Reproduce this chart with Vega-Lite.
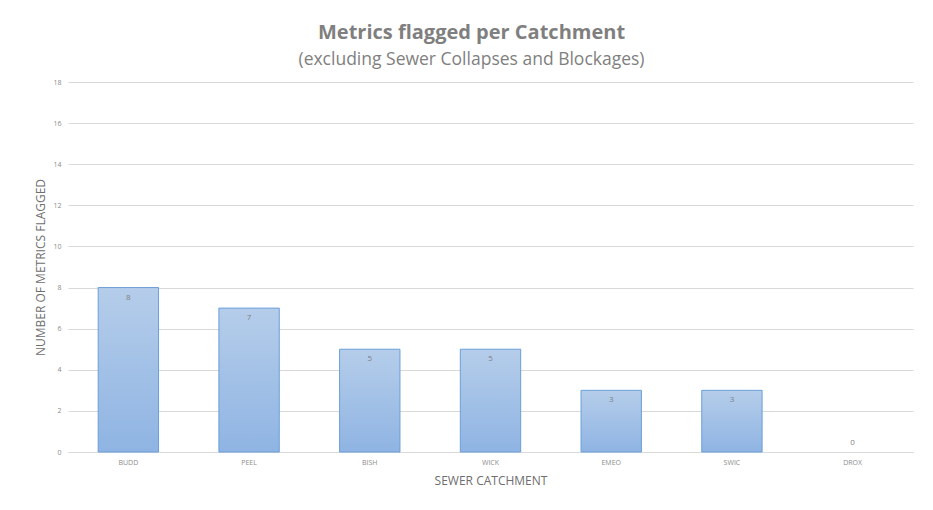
{
  "$schema": "https://vega.github.io/schema/vega-lite/v6.json",
  "autosize": {"type": "none"},
  "padding": {"left": 68, "top": 82, "right": 20, "bottom": 58},
  "width": 845,
  "height": 370,
  "background": "white",
  "title": {
    "text": "Metrics flagged per Catchment",
    "subtitle": "(excluding Sewer Collapses and Blockages)",
    "anchor": "middle",
    "dx": -19,
    "offset": 10,
    "font": "Open Sans",
    "fontSize": 20,
    "fontWeight": "bold",
    "color": "#7f7f7f",
    "subtitleFont": "Open Sans",
    "subtitleFontSize": 17.5,
    "subtitleColor": "#7f7f7f",
    "subtitlePadding": 8
  },
  "data": {
    "values": [
      {"catchment": "BUDD", "count": 8},
      {"catchment": "PEEL", "count": 7},
      {"catchment": "BISH", "count": 5},
      {"catchment": "WICK", "count": 5},
      {"catchment": "EMEO", "count": 3},
      {"catchment": "SWIC", "count": 3},
      {"catchment": "DROX", "count": 0}
    ]
  },
  "encoding": {
    "x": {
      "field": "catchment",
      "type": "nominal",
      "sort": null,
      "scale": {"paddingInner": 0.5, "paddingOuter": 0.25},
      "axis": {
        "title": "SEWER CATCHMENT",
        "labelAngle": 0,
        "labelFont": "Open Sans",
        "labelFontSize": 7,
        "labelColor": "#8c8c8c",
        "labelPadding": 6,
        "ticks": false,
        "domain": true,
        "domainColor": "#d9d9d9",
        "titleFont": "Open Sans",
        "titleFontSize": 12,
        "titleFontWeight": "normal",
        "titleColor": "#6e6e6e",
        "titlePadding": 10
      }
    },
    "y": {
      "field": "count",
      "type": "quantitative",
      "scale": {"domain": [0, 18], "nice": false},
      "axis": {
        "title": "NUMBER OF METRICS FLAGGED",
        "values": [0, 2, 4, 6, 8, 10, 12, 14, 16, 18],
        "labelFont": "Open Sans",
        "labelFontSize": 7,
        "labelColor": "#8c8c8c",
        "labelPadding": 7,
        "ticks": false,
        "domain": false,
        "grid": true,
        "gridColor": "#d9d9d9",
        "titleFont": "Open Sans",
        "titleFontSize": 12,
        "titleFontWeight": "normal",
        "titleColor": "#6e6e6e",
        "titlePadding": 5
      }
    }
  },
  "layer": [
    {
      "mark": {
        "type": "bar",
        "color": {
          "gradient": "linear",
          "x1": 0, "y1": 0, "x2": 0, "y2": 1,
          "stops": [
            {"offset": 0, "color": "#b5cdea"},
            {"offset": 1, "color": "#8fb4e3"}
          ]
        },
        "stroke": "#6a9fd8",
        "strokeWidth": 1
      },
      "encoding": {
        "strokeOpacity": {"condition": {"test": "datum.count == 0", "value": 0}, "value": 1}
      }
    },
    {
      "transform": [{"filter": "datum.count > 0"}],
      "mark": {"type": "text", "dy": 10, "font": "Open Sans", "fontSize": 8, "color": "#7f7f7f"},
      "encoding": {"text": {"field": "count", "type": "quantitative"}}
    },
    {
      "transform": [{"filter": "datum.count == 0"}],
      "mark": {"type": "text", "dy": -9, "font": "Open Sans", "fontSize": 8, "color": "#7f7f7f"},
      "encoding": {"text": {"field": "count", "type": "quantitative"}}
    }
  ],
  "config": {"view": {"stroke": null}}
}
